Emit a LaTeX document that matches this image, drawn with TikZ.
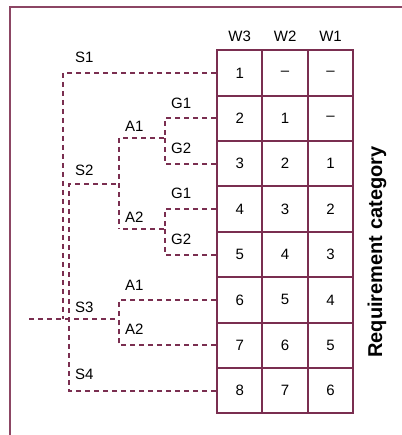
\documentclass[tikz,border=0pt]{standalone}
\usepackage{fontspec}
\setmainfont{Liberation Sans}
\definecolor{maroon}{RGB}{122,46,80}
\definecolor{framec}{RGB}{140,70,100}
\begin{document}
\begin{tikzpicture}[x=1bp,y=-1bp,
  cell/.style={draw=maroon,line width=2bp,minimum width=45.4bp,minimum height=45.4bp,inner sep=0pt,anchor=north west,font=\fontsize{15bp}{18bp}\selectfont},
  dend/.style={draw=maroon,line width=2bp,dash pattern=on 5bp off 4bp},
  lab/.style={anchor=base west,inner sep=0pt,font=\fontsize{15bp}{18bp}\selectfont},
  head/.style={anchor=base,inner sep=0pt,font=\fontsize{15bp}{18bp}\selectfont},
  framel/.style={draw=framec,line width=1.6bp}]
\useasboundingbox (0,0) rectangle (401,435);
\draw[framel] (10,436) -- (10,7) -- (402,7);
% table
\foreach \r/\a/\b/\c in {1/1/\textendash/\textendash,2/2/1/\textendash,3/3/2/1,4/4/3/2,5/5/4/3,6/6/5/4,7/7/6/5,8/8/7/6}{
  \node[cell] (w3r\r) at (216,{49.2+(\r-1)*45.4}) {\a};
  \node[cell] (w2r\r) at (261.4,{49.2+(\r-1)*45.4}) {\b};
  \node[cell] (w1r\r) at (306.8,{49.2+(\r-1)*45.4}) {\c};
}
\node[head] (hW3) at ([yshift=8bp]w3r1.north) {W3};
\node[head] (hW2) at ([yshift=8bp]w2r1.north) {W2};
\node[head] (hW1) at ([yshift=8bp]w1r1.north) {W1};
\node[rotate=90,inner sep=0pt,font=\fontsize{20bp}{22bp}\selectfont\bfseries] (rc) at (377,252) {Requirement category};
% dendrogram
\coordinate (root) at (29,319);
\coordinate (s3j) at (119,319);
\coordinate (s1c) at (63,319);
\coordinate (s2c) at (69,184);
\coordinate (s2j) at (119,184);
\coordinate (a1j) at (119,138);
\coordinate (a2j) at (119,229);
\coordinate (g1j) at (165,138);
\coordinate (g2j) at (165,229);
\draw[dend] (w3r1.west) -| (s1c);
\draw[dend] (w3r8.west) -| (s2c) -- (s2j);
\draw[dend] (a1j) -- (a2j);
\draw[dend] (w3r2.west) -| (g1j) -- (a1j);
\draw[dend] (w3r3.west) -| (g1j);
\draw[dend] (w3r4.west) -| (g2j) -- (a2j);
\draw[dend] (w3r5.west) -| (g2j);
\draw[dend] (root) -- (s3j);
\draw[dend] (w3r6.west) -| (s3j);
\draw[dend] (w3r7.west) -| (s3j);
% labels
\node[lab] (lS1) at (75,63) {S1};
\node[lab] (lS2) at (75,176) {S2};
\node[lab] (lS3) at (75,312) {S3};
\node[lab] (lS4) at (75,379) {S4};
\node[lab] (lA1a) at (125,132) {A1};
\node[lab] (lA2a) at (125,222) {A2};
\node[lab] (lG1a) at (171,109) {G1};
\node[lab] (lG2a) at (171,154) {G2};
\node[lab] (lG1b) at (171,199) {G1};
\node[lab] (lG2b) at (171,244) {G2};
\node[lab] (lA1b) at (125,290) {A1};
\node[lab] (lA2b) at (125,334) {A2};
\end{tikzpicture}
\end{document}
